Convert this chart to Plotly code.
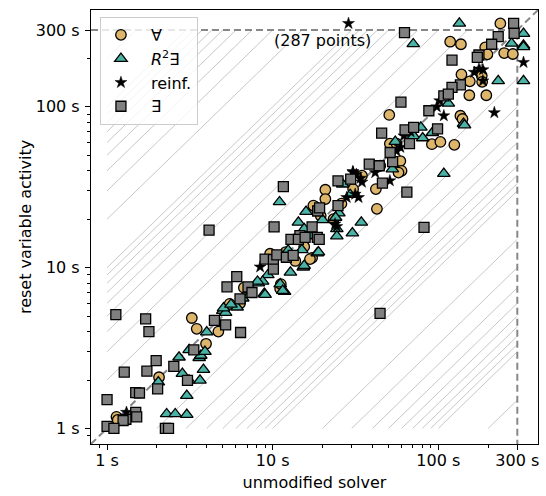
import math
import plotly.graph_objects as go

# ---- data (seconds) ----
forall_x = [3.25, 3.48, 4.7, 3.96, 2.06, 1.14, 1.16, 5.5, 6.35, 18.0, 13.7, 17.3, 11.1, 11.2, 6.7, 16.8,
            9.65, 50.6, 51, 56, 59, 60, 57.5, 34.6, 42, 30.6, 20.8, 20.8, 42.6, 17.6, 23.3, 44.6,
            118, 137, 237, 250, 282, 192, 198, 138, 155, 183, 184, 154, 195, 136, 140, 91.5, 103, 125,
            15.5, 12.0, 26, 19.5]
forall_y = [4.86, 4.16, 4.0, 3.36, 2.08, 1.18, 1.13, 5.95, 6.0, 23.9, 11.0, 11.5, 7.4, 7.9, 7.5, 11.3,
            12.2, 89, 59, 59, 46, 40, 39, 37.3, 30.8, 30.8, 30.5, 26.7, 23.2, 24.3, 20, 43,
            254, 245, 330, 216, 213, 234, 212, 159, 144, 156, 143, 118, 118, 88, 84, 58.6, 60.5, 58,
            13.5, 12.5, 25, 21]

r2e_x = [5.0, 5.2, 6.1, 4.0, 3.13, 2.72, 3.6, 3.68, 3.9, 3.82, 2.85, 3.13, 3.64, 2.04, 3.03, 2.29, 2.58, 3.03,
         11.0, 15.9, 14.3, 15.5, 16.7, 12.4, 15.0, 18.6, 15.3, 12.8, 9.35, 8.2, 8.7, 11.1, 11.8, 8.9, 6.6,
         5.05, 8.1, 9.0, 11.5, 108, 34.3, 30.3, 26.5, 29.4, 25.1, 24.0, 24.4, 24.4, 18.9, 15.5, 16.8, 20,
         55, 52.8, 67, 78.5, 71, 80.5, 92, 115, 142, 134, 70.6, 277, 327, 327, 327, 230, 327, 144, 5.6, 7.3]
r2e_y = [5.4, 5.25, 5.67, 3.97, 3.08, 2.77, 2.75, 2.84, 3.0, 2.32, 2.19, 1.99, 1.99, 1.94, 1.6, 1.23, 1.23, 1.22,
         25.6, 22.3, 19.1, 17.4, 15.7, 12.8, 12.9, 12.3, 10.05, 9.35, 9.0, 8.0, 8.2, 7.9, 7.1, 6.9, 6.45,
         5.6, 8.2, 6.8, 7.2, 38.4, 19.1, 16.4, 33, 28.4, 21.8, 20.5, 17.4, 15.7, 12.5, 10.3, 15.8, 19.8,
         60.7, 41, 73, 74.5, 66, 64, 69, 105, 78.6, 330, 246, 248, 285, 241, 236, 145, 145, 77, 5.9, 6.8]

reinf_x = [28.7, 327, 218, 108, 102, 165, 186, 186, 176, 59, 56, 30.5, 32, 34, 34.6, 51, 31.5, 33, 28,
           23.8, 24.4, 8.4, 30.6, 41.6, 1.31, 98, 62, 68]
reinf_y = [330, 189, 92, 88, 109, 164, 170, 145, 172, 56, 53, 39.6, 38, 36, 34, 34.7, 28.6, 27.3, 27.3,
           18.7, 18.0, 10.1, 39, 39, 1.26, 100, 66, 70]

exists_x = [1.13, 1.71, 1.79, 4.45, 5.2, 6.4, 3.34, 1.98, 1.74, 1.27, 2.53, 3.06, 2.02, 1.49, 1.57, 1.0,
            1.49, 1.51, 1.3, 1.25, 1.0, 1.1, 2.25, 2.35,
            11.6, 4.13, 10.2, 12.9, 14.6, 14.3, 15.7, 17.3, 18.7, 9.0, 10.1, 10.6, 12.1, 13.3, 10.1, 6.07,
            5.3, 7.1, 7.5, 6.35, 18.6, 19.1, 19.2, 24.8, 24.8, 29.6, 38.3, 44, 46, 53, 51.2, 64.6, 82, 44.5,
            45.5, 63, 67, 71, 59.5, 62.5, 121, 136, 121, 108, 115, 87.7, 99, 285, 287, 230, 210, 176, 172]
exists_y = [5.1, 4.8, 4.0, 4.7, 4.4, 3.95, 3.08, 2.64, 2.27, 2.24, 2.43, 1.99, 1.76, 1.67, 1.66, 1.51,
            1.26, 1.18, 1.14, 1.12, 1.03, 1.0, 1.0, 1.0,
            31.9, 17.1, 17.9, 15.0, 15.8, 15.0, 15.4, 17.9, 22.5, 11.3, 11.2, 12.0, 11.6, 11.9, 9.8, 8.8,
            7.6, 7.6, 7.0, 6.4, 15.4, 15.0, 23.5, 24.3, 34.6, 35.5, 44, 43, 33.5, 45.6, 52, 29.5, 17.8, 5.2,
            68.6, 71.8, 59, 74.5, 107, 289, 195, 137, 132, 117, 120, 94.5, 73, 330, 286, 273, 245, 210, 203]

tick_vals = [1, 10, 100, 300]
tick_text = ["1 s", "10 s", "100 s", "300 s"]
minor_vals = [0.9, 2, 3, 4, 5, 6, 7, 8, 9, 20, 30, 40, 50, 60, 70, 80, 90, 200]
hatch_factors = [2, 3, 4, 5, 6, 7, 8, 9, 10, 20, 30, 40, 50, 60, 70, 80, 90, 100, 200]
timeout = 300
low = 1
axis_lo, axis_hi = 0.8, 400
n_points = 287

FONT = "DejaVu Sans"
fig = go.Figure()

# hatch reference lines (constant ratio lines)
hx, hy = [], []
for k in hatch_factors:
    hx += [low, timeout / k, None]
    hy += [low * k, timeout, None]
    hx += [low * k, timeout, None]
    hy += [low, timeout / k, None]
fig.add_trace(go.Scatter(x=hx, y=hy, mode="lines", line=dict(color="#c8c8c8", width=1),
                         showlegend=False, hoverinfo="skip"))

dash_style = dict(color="#888888", width=2, dash="7px,4px")
fig.add_trace(go.Scatter(x=[axis_lo, axis_hi], y=[axis_lo, axis_hi], mode="lines", line=dash_style,
                         showlegend=False, hoverinfo="skip"))
fig.add_trace(go.Scatter(x=[axis_lo, timeout, timeout], y=[timeout, timeout, axis_lo], mode="lines",
                         line=dash_style, showlegend=False, hoverinfo="skip"))

edge = dict(color="black", width=1.3)
fig.add_trace(go.Scatter(x=forall_x, y=forall_y, mode="markers", name="∀",
                         marker=dict(symbol="circle", size=10.5, color="#DDB66B", line=edge)))
fig.add_trace(go.Scatter(x=r2e_x, y=r2e_y, mode="markers", name="<i>R</i><sup>2</sup>∃",
                         marker=dict(symbol="triangle-up", size=11, color="#4AB3A6", line=edge)))
fig.add_trace(go.Scatter(x=reinf_x, y=reinf_y, mode="markers", name="reinf.",
                         marker=dict(symbol="star", size=9, color="black", line=dict(color="black", width=0.5))))
fig.add_trace(go.Scatter(x=exists_x, y=exists_y, mode="markers", name="∃",
                         marker=dict(symbol="square", size=10, color="#808080", line=edge)))

fig.add_annotation(x=math.log10(20), y=math.log10(257), xref="x", yref="y",
                   text=f"({n_points} points)", showarrow=False,
                   font=dict(family=FONT, size=16, color="black"))

axis_common = dict(type="log", range=[math.log10(axis_lo), math.log10(axis_hi)],
                   tickmode="array", tickvals=tick_vals, ticktext=tick_text,
                   ticks="outside", ticklen=5, tickwidth=1, tickcolor="black",
                   showline=True, linecolor="black", linewidth=1.2, mirror=True,
                   showgrid=False, zeroline=False,
                   tickfont=dict(family=FONT, size=16, color="black"),
                   minor=dict(tickmode="array", tickvals=minor_vals, ticks="outside", ticklen=3,
                              tickwidth=0.8, tickcolor="black", showgrid=False))

fig.update_layout(
    width=546, height=496,
    margin=dict(l=91, r=8, t=10, b=52),
    paper_bgcolor="white", plot_bgcolor="white",
    font=dict(family=FONT, size=16, color="black"),
    xaxis=dict(axis_common, ticklabelstandoff=-3,
               title=dict(text="unmodified solver", font=dict(family=FONT, size=16), standoff=7)),
    yaxis=dict(axis_common, ticklabelstandoff=2,
               title=dict(text="reset variable activity", font=dict(family=FONT, size=16), standoff=0)),
    legend=dict(x=0.02, y=0.984, xanchor="left", yanchor="top",
                bgcolor="rgba(255,255,255,0.8)", bordercolor="#cccccc", borderwidth=1,
                itemwidth=50, indentation=-10,
                font=dict(family=FONT, size=16, color="black")),
    showlegend=True,
)

fig.write_html("out.html")
